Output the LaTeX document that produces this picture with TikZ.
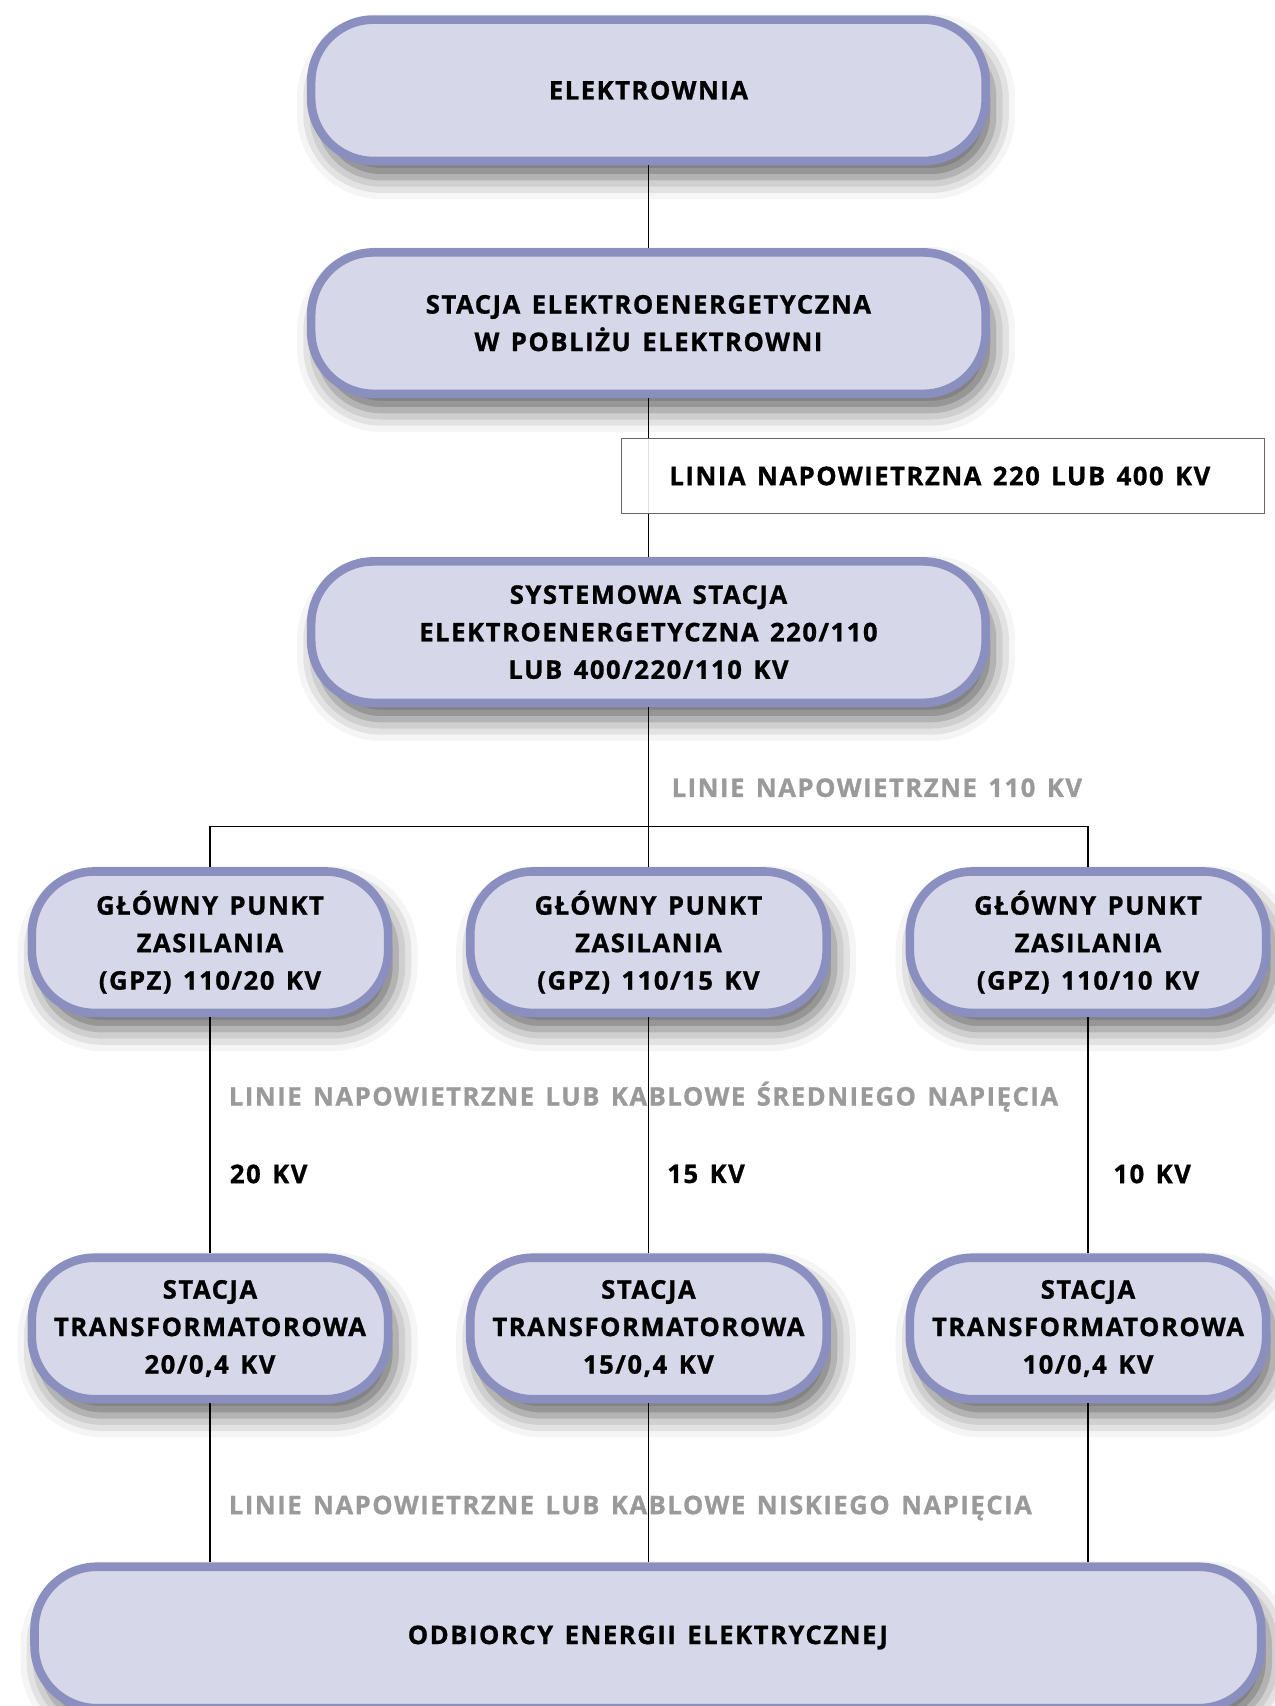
\documentclass[tikz,border=0pt]{standalone}
\usepackage{fontspec}
\setmainfont{Open Sans}[LetterSpace=6,WordSpace=1.4,BoldFeatures={FakeBold=1}]
\usepackage{xcolor}
\usepackage{tikz}
\usetikzlibrary{shadows.blur}
\definecolor{stationFill}{HTML}{D6D7E9}
\definecolor{stationEdge}{HTML}{8B8FBF}
\definecolor{lineGray}{HTML}{9A9A9A}

\tikzset{
  station/.style={draw=stationEdge, fill=stationFill, line width=4.5pt,
    rounded corners=1.15cm, minimum width=12.4cm, minimum height=2.6cm,
    align=center, font=\fontsize{13.4}{19.6}\selectfont\bfseries,
    blur shadow={shadow xshift=0.14cm, shadow yshift=-0.3cm,
      shadow blur radius=0.4cm, shadow opacity=60}},
  gpzbox/.style={station, minimum width=6.55cm},
  wire/.style={black, line width=0.6pt},
  graytext/.style={anchor=west, inner xsep=0pt, text=lineGray, font=\fontsize{13.4}{19.6}\selectfont\bfseries},
  kvtext/.style={anchor=west, inner xsep=0pt, font=\fontsize{13.4}{19.6}\selectfont\bfseries}
}

\begin{document}
\begin{tikzpicture}
  \useasboundingbox (0,0) rectangle (23.42,-31.36);

  % Upper chain
  \node[station] (elek) at (11.92,-1.66) {ELEKTROWNIA};
  \node[station] (stacja) at (11.92,-5.94) {STACJA ELEKTROENERGETYCZNA\\W POBLIŻU ELEKTROWNI};
  \node[station] (system) at (11.92,-11.62) {SYSTEMOWA STACJA\\ELEKTROENERGETYCZNA 220/110\\LUB 400/220/110 KV};
  \draw[wire] (elek) -- (stacja);
  \draw[wire] (stacja) -- (system);

  % 220/400 kV line box
  \node[draw=black!60, fill=white, fill opacity=0.88, line width=0.5pt, minimum width=11.82cm, minimum height=1.38cm] (linia) at (17.33,-8.75) {};
  \node[kvtext] (liniaText) at (12.3,-8.75) {LINIA NAPOWIETRZNA 220 LUB 400 KV};

  % 110 kV lines
  \node[graytext] (hv) at (12.34,-14.48) {LINIE NAPOWIETRZNE 110 KV};
  \coordinate (bus) at (11.92,-15.2);

  % Main supply points
  \node[gpzbox] (gpzA) at (3.86,-17.32) {GŁÓWNY PUNKT\\ZASILANIA\\(GPZ) 110/20 KV};
  \node[gpzbox] (gpzB) at (11.92,-17.32) {GŁÓWNY PUNKT\\ZASILANIA\\(GPZ) 110/15 KV};
  \node[gpzbox] (gpzC) at (20.0,-17.32) {GŁÓWNY PUNKT\\ZASILANIA\\(GPZ) 110/10 KV};
  \draw[wire] (system) -- (bus);
  \draw[wire] (gpzA.north) |- (bus) -| (gpzC.north);
  \draw[wire] (bus) -- (gpzB);

  % Medium voltage
  \node[graytext] (mv) at (4.2,-20.16) {LINIE NAPOWIETRZNE LUB KABLOWE ŚREDNIEGO NAPIĘCIA};
  \node[kvtext] (kvA) at (4.22,-21.58) {20 KV};
  \node[kvtext] (kvB) at (12.26,-21.58) {15 KV};
  \node[kvtext] (kvC) at (20.46,-21.58) {10 KV};

  % Transformer stations
  \node[gpzbox] (trafoA) at (3.86,-24.42) {STACJA\\TRANSFORMATOROWA\\20/0,4 KV};
  \node[gpzbox] (trafoB) at (11.92,-24.42) {STACJA\\TRANSFORMATOROWA\\15/0,4 KV};
  \node[gpzbox] (trafoC) at (20.0,-24.42) {STACJA\\TRANSFORMATOROWA\\10/0,4 KV};
  \draw[wire] (gpzA) -- (trafoA);
  \draw[wire] (gpzB) -- (trafoB);
  \draw[wire] (gpzC) -- (trafoC);

  % Low voltage and consumers
  \node[graytext] (lv) at (4.2,-27.72) {LINIE NAPOWIETRZNE LUB KABLOWE NISKIEGO NAPIĘCIA};
  \node[station, minimum width=22.55cm] (odbiorcy) at (11.91,-30.1) {ODBIORCY ENERGII ELEKTRYCZNEJ};
  \draw[wire] (trafoA) -- (trafoA |- odbiorcy.north);
  \draw[wire] (trafoB) -- (trafoB |- odbiorcy.north);
  \draw[wire] (trafoC) -- (trafoC |- odbiorcy.north);
\end{tikzpicture}
\end{document}
